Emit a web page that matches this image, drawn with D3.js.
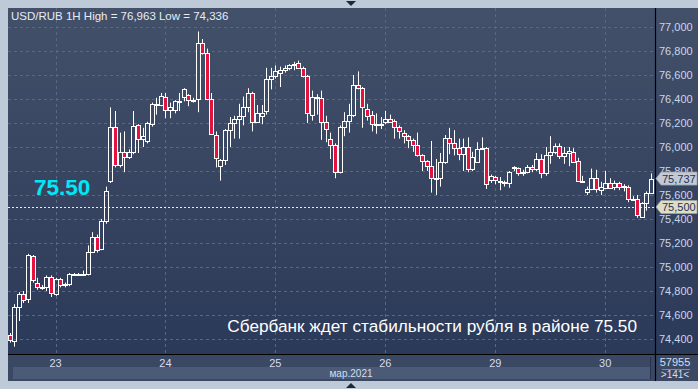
<!DOCTYPE html>
<html><head><meta charset="utf-8">
<script src="https://cdn.jsdelivr.net/npm/d3@7"></script>
<style>html,body{margin:0;padding:0;background:#bfcad8;}svg{display:block;}</style>
</head><body><svg id="c" width="698" height="389"></svg>
<script>
const title = "USD/RUB 1H High = 76,963 Low = 74,336";
const headline = "Сбербанк ждет стабильности рубля в районе 75.50";
const monthLabel = "мар.2021";
const dayLabels = ["23","24","25","26","29","30"];
const dayIndex = [10,34,58,82,106,130];
const yTicks = [74.4,74.6,74.8,75.0,75.2,75.4,75.6,75.8,76.0,76.2,76.4,76.6,76.8,77.0];
const lastPrice = 75.737;
const targetPrice = 75.50;
const barsCount = "57955";
const barsShown = ">141<";

const open = [74.43,74.38,74.67,74.775,74.73,75.09,74.87,74.83,74.83,74.92,
74.775,74.90,74.85,74.86,74.94,74.945,74.94,74.94,75.125,75.25,
75.15,75.38,75.72,76.17,75.85,75.96,75.92,75.96,76.18,76.07,
76.05,76.19,76.35,76.35,76.42,76.31,76.31,76.38,76.42,76.43,
76.39,76.40,76.87,76.78,76.40,76.10,75.84,75.89,76.14,76.20,
76.23,76.26,76.33,76.45,76.21,76.26,76.30,76.57,76.59,76.62,
76.64,76.66,76.68,76.70,76.66,76.59,76.27,76.42,76.41,76.21,
76.07,76.02,75.79,76.17,76.22,76.27,76.52,76.49,76.32,76.27,
76.19,76.19,76.21,76.23,76.22,76.17,76.12,76.09,76.06,76.02,
75.93,75.88,75.84,75.74,75.74,75.875,76.075,76.03,75.99,75.94,
76.00,75.82,75.875,75.99,75.99,75.725,75.75,75.72,75.71,75.70,
75.825,75.825,75.79,75.79,75.83,75.815,75.90,75.785,75.93,75.96,
76.01,75.925,75.95,75.96,75.88,75.715,75.625,75.65,75.74,75.64,
75.66,75.70,75.665,75.70,75.665,75.667,75.57,75.57,75.42,75.53,75.62];
const close = [74.39,74.67,74.775,74.725,75.10,74.89,74.83,74.835,74.92,74.78,
74.90,74.85,74.855,74.94,74.945,74.94,74.945,75.125,75.25,75.14,
75.38,75.63,76.17,75.85,75.96,75.92,75.96,76.175,76.07,76.09,
76.20,76.36,76.36,76.425,76.31,76.33,76.38,76.38,76.48,76.39,
76.39,76.87,76.78,76.40,76.11,75.91,75.89,76.14,76.20,76.23,
76.26,76.33,76.45,76.21,76.28,76.28,76.57,76.59,76.63,76.64,
76.66,76.68,76.69,76.66,76.59,76.28,76.42,76.41,76.21,76.15,
76.02,75.79,76.17,76.22,76.27,76.52,76.49,76.33,76.26,76.19,
76.19,76.195,76.23,76.21,76.17,76.13,76.09,76.06,76.02,75.93,
75.88,75.84,75.74,75.745,75.875,76.075,76.03,75.99,75.94,76.00,
75.82,75.92,75.985,75.985,75.69,75.76,75.725,75.72,75.70,75.79,
75.83,75.785,75.79,75.83,75.815,75.90,75.785,75.93,75.96,76.01,
75.925,75.95,75.965,75.875,75.72,75.72,75.65,75.74,75.65,75.667,
75.70,75.66,75.70,75.665,75.675,75.57,75.57,75.43,75.53,75.62,75.737];
const high = [74.45,74.69,74.79,74.80,75.11,75.10,74.91,74.85,74.93,74.93,
74.91,74.91,74.87,74.95,74.95,74.95,74.97,75.18,75.29,75.27,
75.40,75.67,76.33,76.30,76.12,76.13,75.98,76.30,76.19,76.16,
76.21,76.37,76.41,76.45,76.45,76.37,76.39,76.45,76.49,76.44,
76.41,76.963,76.90,76.82,76.45,76.13,75.90,76.15,76.25,76.26,
76.36,76.42,76.49,76.46,76.35,76.35,76.66,76.66,76.68,76.67,
76.68,76.69,76.71,76.72,76.67,76.60,76.47,76.44,76.47,76.26,
76.12,76.03,76.18,76.29,76.36,76.60,76.63,76.50,76.36,76.30,
76.28,76.25,76.30,76.27,76.23,76.18,76.14,76.10,76.07,76.12,
75.94,75.89,76.05,75.90,75.95,76.10,76.16,76.14,76.07,76.07,
76.08,75.96,76.04,76.08,76.00,75.77,75.76,75.75,75.72,75.80,
75.84,75.83,75.81,75.85,75.85,75.95,75.94,76.00,76.09,76.03,
76.03,76.00,76.00,75.99,75.91,75.76,75.67,75.82,75.81,75.71,
75.80,75.74,75.72,75.71,75.69,75.68,75.59,75.60,75.54,75.63,75.78];
const low = [74.37,74.336,74.55,74.70,74.70,74.87,74.81,74.81,74.80,74.75,
74.76,74.83,74.83,74.84,74.93,74.93,74.93,74.93,75.12,75.12,
75.14,75.36,75.70,75.83,75.83,75.79,75.90,75.94,75.95,76.00,
76.03,76.17,76.27,76.34,76.24,76.24,76.28,76.30,76.38,76.34,
76.37,76.29,76.77,76.39,76.10,75.83,75.72,75.85,76.00,76.07,
76.07,76.18,76.29,76.13,76.20,76.19,76.27,76.48,76.57,76.50,
76.62,76.64,76.64,76.65,76.58,76.20,76.22,76.27,76.06,76.04,
75.90,75.74,75.78,76.09,76.12,76.25,76.48,76.16,76.22,76.13,
76.11,76.15,76.19,76.20,76.07,76.07,76.03,75.99,75.96,75.92,
75.80,75.80,75.62,75.60,75.67,75.86,75.94,75.93,75.89,75.80,
75.79,75.80,75.87,75.98,75.65,75.70,75.69,75.64,75.67,75.66,
75.80,75.76,75.76,75.78,75.79,75.80,75.74,75.76,75.86,75.94,
75.90,75.86,75.84,75.87,75.71,75.71,75.60,75.64,75.62,75.60,
75.65,75.65,75.64,75.64,75.63,75.54,75.55,75.41,75.41,75.47,75.61];

const svg = d3.select("#c");
const W = 698, H = 389;
const plotL = 8, plotR = 655, plotT = 8, plotB = 354, axisR = 698, dateB = 381;
const FONT = "Liberation Sans, Arial, sans-serif";

const defs = svg.append("defs");
const g1 = defs.append("linearGradient").attr("id","bg").attr("x1",0).attr("y1",0).attr("x2",0).attr("y2",1);
g1.append("stop").attr("offset","0%").attr("stop-color","#425069");
g1.append("stop").attr("offset","100%").attr("stop-color","#2a3858");

svg.append("rect").attr("width",W).attr("height",H).attr("fill","#bfcad8");
svg.append("path").attr("d","M346,1 L356,1 L351,6 Z").attr("fill","#1c2740");
svg.append("path").attr("d","M346,388 L356,388 L351,383 Z").attr("fill","#1c2740");

svg.append("rect").attr("x",plotL).attr("y",plotT).attr("width",axisR-plotL).attr("height",dateB-plotT).attr("fill","url(#bg)");
svg.append("rect").attr("x",plotL).attr("y",plotB).attr("width",axisR-plotL).attr("height",dateB-plotB).attr("fill","#3a4864");
svg.append("rect").attr("x",13).attr("y",367).attr("width",637).attr("height",12).attr("fill","#4b5a76");

const x = d3.scaleLinear().domain([0,140]).range([9.7,651]);
const y = d3.scaleLinear().domain([74.4,77.0]).range([339,27]);

const grid = svg.append("g").attr("stroke","#5a6783").attr("stroke-dasharray","3,3").attr("stroke-width",1);
yTicks.forEach(v=>{
  grid.append("line").attr("x1",plotL).attr("x2",plotR).attr("y1",Math.round(y(v))+0.5).attr("y2",Math.round(y(v))+0.5);
});
dayIndex.forEach(i=>{
  grid.append("line").attr("x1",Math.round(x(i))+0.5).attr("x2",Math.round(x(i))+0.5).attr("y1",plotT).attr("y2",plotB);
});

svg.append("text").attr("x",11).attr("y",20).attr("fill","#e6ecf6")
  .attr("font-family",FONT).attr("font-size",11.5).text(title);

svg.append("line").attr("x1",plotL).attr("x2",plotR).attr("y1",Math.round(y(targetPrice))+0.5).attr("y2",Math.round(y(targetPrice))+0.5)
  .attr("stroke","#e8ecf2").attr("stroke-dasharray","2,2");

const data = open.map((o,i)=>({i,o,h:high[i],l:low[i],c:close[i]}));
const cg = svg.append("g");
data.forEach(d=>{
  const cx = Math.round(x(d.i))+0.5;
  const top = y(Math.max(d.o,d.c)), bot = y(Math.min(d.o,d.c));
  const t = Math.round(top)+0.5, b = Math.max(Math.round(bot)+0.5, t+1);
  cg.append("line").attr("x1",cx).attr("x2",cx).attr("y1",y(d.h)).attr("y2",t).attr("stroke","#ffffff");
  cg.append("line").attr("x1",cx).attr("x2",cx).attr("y1",b).attr("y2",y(d.l)).attr("stroke","#ffffff");
  cg.append("rect").attr("x",cx-2).attr("y",t).attr("width",4).attr("height",b-t)
    .attr("fill", d.c < d.o ? "#e3123f" : "none").attr("stroke","#ffffff").attr("stroke-width",1);
});

svg.append("text").attr("x",34).attr("y",195).attr("fill","#00e8f8").attr("font-weight","bold")
  .attr("font-family",FONT).attr("font-size",22.5).text("75.50");

svg.append("text").attr("x",637).attr("y",332).attr("text-anchor","end").attr("fill","#ffffff")
  .attr("font-family",FONT).attr("font-size",17.2).text(headline);

svg.append("line").attr("x1",plotR+0.5).attr("x2",plotR+0.5).attr("y1",plotT).attr("y2",dateB).attr("stroke","#000").attr("stroke-width",1.2);
svg.append("line").attr("x1",plotL).attr("x2",axisR).attr("y1",plotB+0.5).attr("y2",plotB+0.5).attr("stroke","#000").attr("stroke-width",1.2);
svg.append("line").attr("x1",650.5).attr("x2",650.5).attr("y1",357).attr("y2",379).attr("stroke","#26324c");

const yl = svg.append("g").attr("font-family",FONT).attr("font-size",11).attr("fill","#c9d6ea");
const fmt = v => d3.format(".3f")(v).replace(".",",");
yTicks.forEach(v=>{
  yl.append("text").attr("x",659).attr("y",y(v)+4).text(fmt(v));
});

const dl = svg.append("g").attr("font-family",FONT).attr("font-size",11).attr("fill","#d4def0").attr("text-anchor","middle");
dayIndex.forEach((i,k)=>{ dl.append("text").attr("x",x(i)).attr("y",367).text(dayLabels[k]); });
dl.append("text").attr("x",351).attr("y",377).attr("font-size",10).text(monthLabel);

const bi = svg.append("g").attr("font-family",FONT).attr("fill","#d4def0").attr("text-anchor","middle");
bi.append("text").attr("x",675).attr("y",366).attr("font-size",11).text(barsCount);
bi.append("line").attr("x1",662).attr("x2",690).attr("y1",369.5).attr("y2",369.5).attr("stroke","#7d8aa2");
bi.append("text").attr("x",675).attr("y",378).attr("font-size",10).text(barsShown);

function priceBox(v, fill){
  const cy = y(v);
  svg.append("path").attr("d",`M656,${cy} L661,${cy-6.5} L697,${cy-6.5} L697,${cy+6.5} L661,${cy+6.5} Z`)
    .attr("fill",fill).attr("stroke","#9aa2ac").attr("stroke-width",0.8);
  svg.append("text").attr("x",662).attr("y",cy+4).attr("fill","#1d3160")
    .attr("font-family",FONT).attr("font-size",11).text(fmt(v));
}
priceBox(lastPrice,"#c5cad2");
priceBox(targetPrice,"#dedcc2");
</script></body></html>
